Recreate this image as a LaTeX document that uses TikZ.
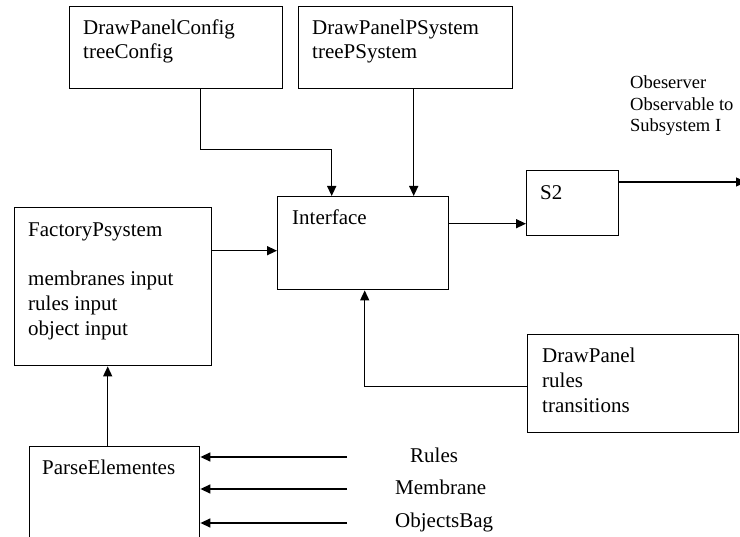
\documentclass[tikz,border=0pt]{standalone}
\usepackage{fontspec}
\setmainfont{Liberation Serif}
\usetikzlibrary{arrows.meta}
\begin{document}
\begin{tikzpicture}[x=1pt,y=-1pt,
  box/.style={draw,line width=1.4pt,inner sep=0pt,anchor=north west},
  txt/.style={anchor=base west,inner sep=0pt,font=\fontsize{21}{25}\selectfont},
  small/.style={anchor=base west,inner sep=0pt,font=\fontsize{18.5}{21}\selectfont},
  arr/.style={line width=1.4pt,-{Triangle[length=10pt,width=9pt]}},
  ln/.style={line width=1.4pt}]
\clip (0,0) rectangle (740,537);
\fill[white] (0,0) rectangle (740,537);
% boxes
\node[box,minimum width=213pt,minimum height=82pt] (dpc) at (69,6) {};
\node[box,minimum width=214pt,minimum height=82pt] (dpps) at (298,6) {};
\node[box,minimum width=171pt,minimum height=93pt] (iface) at (277,196) {};
\node[box,minimum width=92pt,minimum height=65pt] (s2) at (526,170) {};
\node[box,minimum width=197pt,minimum height=158pt] (fact) at (14,207) {};
\node[box,minimum width=211pt,minimum height=98pt] (dp) at (527,334) {};
\node[box,minimum width=170pt,minimum height=100pt] (parse) at (29,446) {};
% texts
\node[txt] (t1) at (83,35) {DrawPanelConfig};
\node[txt] (t2) at (83,59) {treeConfig};
\node[txt] (t3) at (312,35) {DrawPanelPSystem};
\node[txt] (t4) at (312,59) {treePSystem};
\node[txt] (t5) at (292,225) {Interface};
\node[txt] (t6) at (540,200) {S2};
\node[small] (o1) at (630,89) {Obeserver};
\node[small] (o2) at (630,111) {Observable to};
\node[small] (o3) at (630,132) {Subsystem I};
\node[txt] (f1t) at (28,237) {FactoryPsystem};
\node[txt] (f2t) at (28,286) {membranes input};
\node[txt] (f3t) at (28,311) {rules input};
\node[txt] (f4t) at (28,336) {object input};
\node[txt] (d1t) at (542,363) {DrawPanel};
\node[txt] (d2t) at (542,388) {rules};
\node[txt] (d3t) at (542,413) {transitions};
\node[txt] (pt) at (42,475) {ParseElementes};
\node[txt] (l1) at (410,463) {Rules};
\node[txt] (l2) at (395,495) {Membrane};
\node[txt] (l3) at (395,528) {ObjectsBag};
% connectors
\coordinate (i1) at ([xshift=-31.5pt]iface.north);
\coordinate (i2) at ([xshift=50.5pt]iface.north);
\draw[arr] ([xshift=24.5pt]dpc.south) -- ++(0,60) -| (i1);
\draw[arr] (dpps.south -| i2) -- (i2);
\coordinate (fi) at ([yshift=-7.5pt]iface.west);
\draw[arr] (fact.east |- fi) -- (fi);
\coordinate (si) at ([yshift=-20.5pt]s2.west);
\draw[arr] (iface.east |- si) -- (si);
\coordinate (outend) at (746,182);
\draw[arr] (s2.east |- outend) -- (outend);
\coordinate (pp) at ([xshift=-7pt]parse.north);
\draw[arr] (pp) -- (pp |- fact.south);
\coordinate (dd) at ([yshift=-3pt]dp.west);
\draw[arr] (dd) -| ([xshift=1.5pt]iface.south);
\coordinate (r1) at (347,457);
\coordinate (r2) at (347,489);
\coordinate (r3) at (347,523);
\draw[arr] (r1) -- (r1 -| parse.east);
\draw[arr] (r2) -- (r2 -| parse.east);
\draw[arr] (r3) -- (r3 -| parse.east);
\end{tikzpicture}
\end{document}
